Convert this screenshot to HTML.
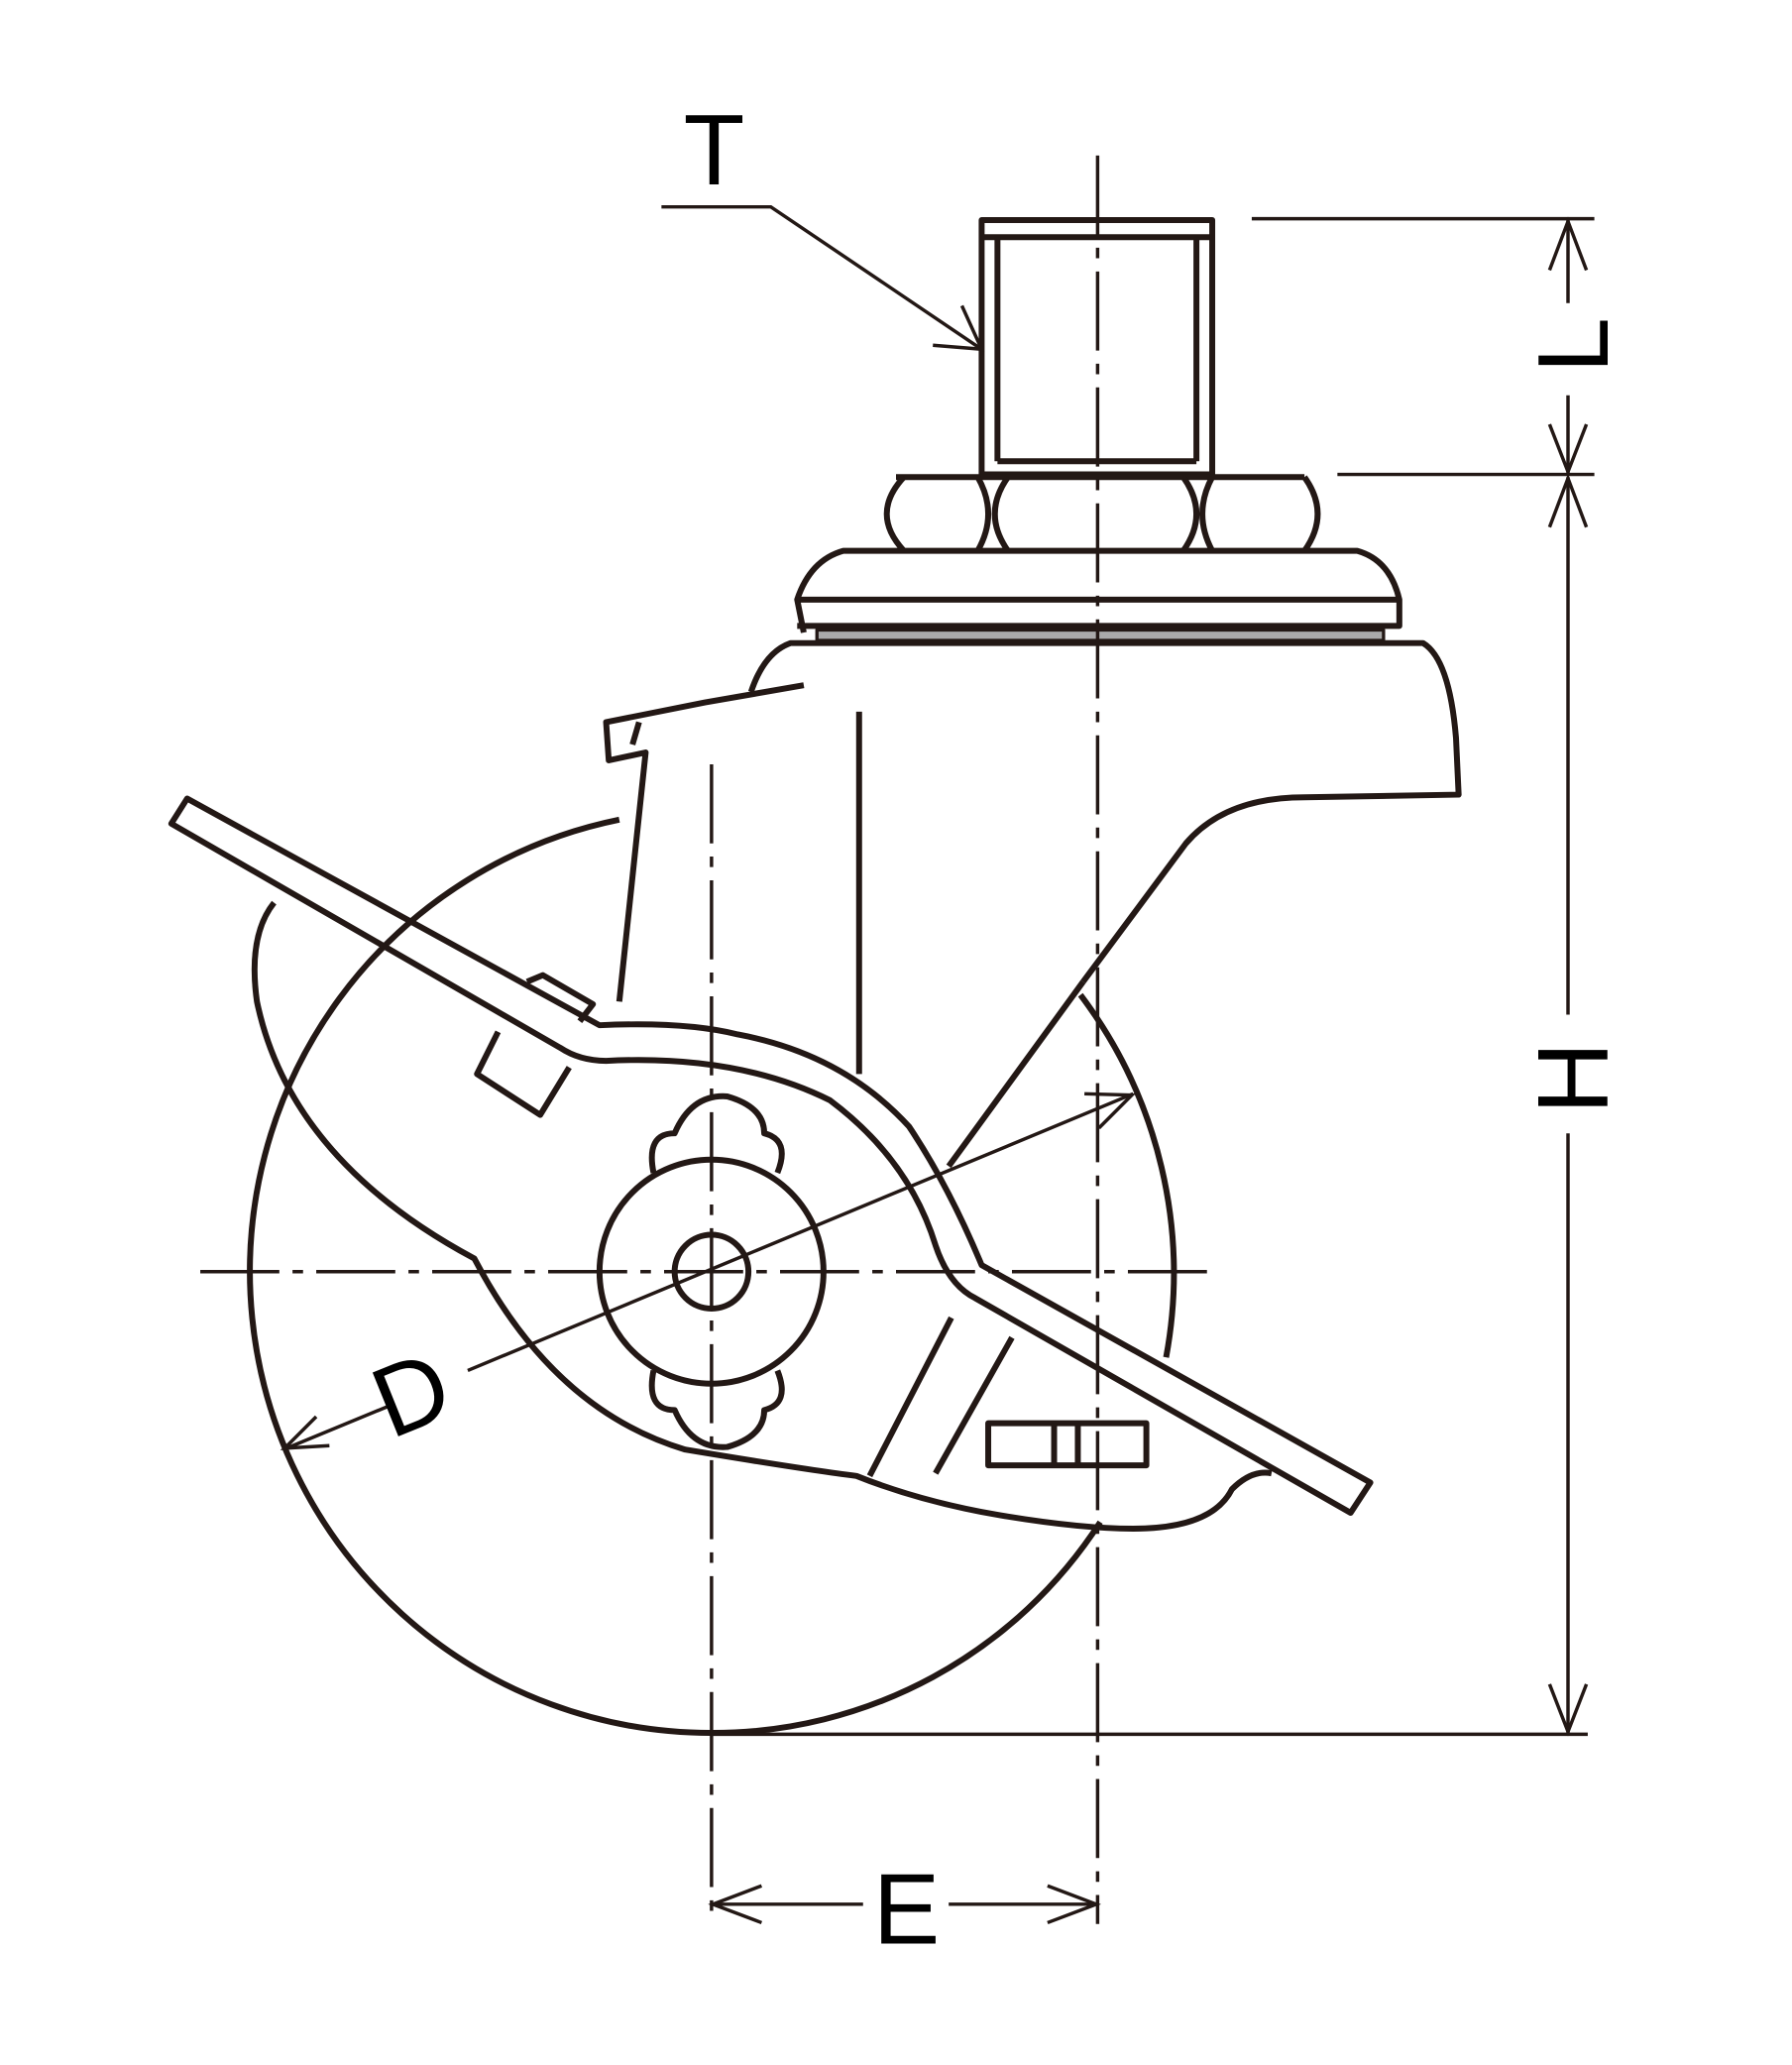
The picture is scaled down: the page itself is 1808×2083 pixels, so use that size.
<!DOCTYPE html>
<html><head><style>html,body{margin:0;padding:0;background:#fff;}svg{display:block;}</style></head>
<body>
<svg width="1808" height="2083" viewBox="0 0 1360 1567" preserveAspectRatio="none" xmlns="http://www.w3.org/2000/svg">
<g fill="none" stroke="#231815" stroke-width="4.5" stroke-linejoin="round">
<!-- wheel -->
<path d="M470 622 A350 350 0 0 0 540 1315 A350 350 0 0 0 835 1155"/>
<path d="M820 755 A350 350 0 0 1 885 1030"/>
<!-- stem -->
<rect x="745" y="167" width="175" height="193"/>
<line x1="745" y1="180" x2="920" y2="180"/>
<line x1="757" y1="180" x2="757" y2="350"/>
<line x1="908" y1="180" x2="908" y2="350"/>
<line x1="757" y1="350" x2="908" y2="350"/>
<!-- nut -->
<line x1="680" y1="362" x2="990" y2="362"/>
<path d="M686 362 Q660 390 686 418 M742 362 Q758 390 742 418 M765 362 Q745 390 765 418 M898 362 Q918 390 898 418 M920 362 Q905 390 920 418 M990 362 Q1010 390 990 418"/>
<!-- plate -->
<path d="M610 480 L605 455 Q615 425 640 418 L1030 418 Q1055 425 1062 455 L1062 475 L605 475"/>
<line x1="607" y1="455" x2="1062" y2="455"/>
<path d="M620 478 L1050 478 L1050 486 L620 486 Z" stroke-width="2.5" fill="#aaa"/>
<!-- body -->
<path d="M570 525 Q580 495 600 488 L1080 488 Q1100 500 1105 560 L1107 603 L990 605 Q930 605 900 640 L822 745"/>
<path d="M610 520 L535 533 L460 548 L462 577 L490 571 L470 760"/>
<line x1="480" y1="565" x2="485" y2="548" />
<line x1="652" y1="540" x2="652" y2="815"/>
<line x1="720" y1="885" x2="822" y2="745"/>
<!-- fork lower -->
<path d="M208 685 Q188 710 195 760 Q220 880 360 955 Q420 1070 520 1100 Q610 1115 650 1120 Q700 1140 760 1150 Q820 1160 860 1160 Q920 1160 935 1130 Q950 1115 965 1118"/>
<path d="M660 1120 L722 1000 M710 1118 L768 1015"/>
<rect x="750" y="1080" width="120" height="32"/>
<line x1="800" y1="1080" x2="800" y2="1112"/>
<line x1="818" y1="1080" x2="818" y2="1112"/>
<!-- brake lever -->
<path d="M130 625 L142 606 L455 778 Q520 775 560 785 Q640 800 690 855 Q720 900 745 960 L1040 1125 L1025 1148 L740 985 Q720 975 710 945 Q690 880 630 835 Q560 800 460 805 Q440 805 425 795 Z"/>
<path d="M400 745 L412 740 L450 762 L440 775"/>
<path d="M378 783 L362 815 L410 846 L432 810"/>
<!-- axle -->
<circle cx="540" cy="965" r="85"/>
<circle cx="540" cy="965" r="28"/>
<path d="M496 890 Q490 860 512 860 Q525 830 552 832 Q580 840 580 860 Q600 865 590 890"/>
<path d="M496 1040 Q490 1070 512 1070 Q525 1100 552 1098 Q580 1090 580 1070 Q600 1065 590 1040"/>
</g>
<g fill="none" stroke="#231815" stroke-width="2.6">
<line x1="833" y1="118" x2="833" y2="1460" stroke-dasharray="60 10 8 10"/>
<line x1="540" y1="580" x2="540" y2="1460" stroke-dasharray="60 10 8 10"/>
<line x1="152" y1="965" x2="925" y2="965" stroke-dasharray="60 10 8 10"/>
<line x1="950" y1="166" x2="1210" y2="166"/>
<line x1="1015" y1="360" x2="1210" y2="360"/>
<line x1="540" y1="1316" x2="1205" y2="1316"/>
<line x1="1190" y1="166" x2="1190" y2="230"/>
<line x1="1190" y1="300" x2="1190" y2="360"/>
<path d="M1176 205 L1190 168 L1204 205 M1176 322 L1190 358 L1204 322"/>
<line x1="1190" y1="362" x2="1190" y2="770"/>
<line x1="1190" y1="860" x2="1190" y2="1315"/>
<path d="M1176 400 L1190 363 L1204 400 M1176 1278 L1190 1314 L1204 1278"/>
<line x1="540" y1="1445" x2="655" y2="1445"/>
<line x1="720" y1="1445" x2="833" y2="1445"/>
<path d="M578 1431 L541 1445 L578 1459 M795 1431 L832 1445 L795 1459"/>
<line x1="215" y1="1100" x2="295" y2="1067"/>
<line x1="355" y1="1040" x2="860" y2="830"/>
<path d="M240 1075 L216 1099 L250 1097 M823 830 L859 831 L834 856"/>
<path d="M502 157 L585 157 L745 265"/>
<path d="M708 262 L745 265 L730 232"/>
</g>
<g font-family="Liberation Sans, sans-serif" font-size="76" fill="#000" text-anchor="middle">
<text x="542" y="140">T</text>
<text x="688" y="1475">E</text>
<text transform="translate(1220,262) rotate(-90)">L</text>
<text transform="translate(1220,818) rotate(-90)">H</text>
<text transform="translate(322,1082) rotate(-22)">D</text>
</g>
</svg>
</body></html>
